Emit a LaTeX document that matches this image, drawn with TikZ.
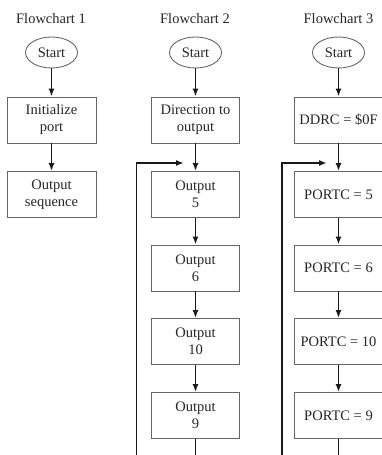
\documentclass[tikz,border=0pt]{standalone}
\usepackage{fontspec}
\setmainfont{Liberation Serif}
\usetikzlibrary{arrows.meta,shapes.geometric}
\begin{document}
\begin{tikzpicture}[x=1pt,y=-1pt,
  every node/.style={font=\fontsize{14.5}{17}\selectfont, text=black!85},
  proc/.style={draw=black!60, line width=0.9pt, minimum width=88pt,
    minimum height=46pt, align=center, inner sep=0pt},
  term/.style={ellipse, draw=black!60, line width=0.9pt,
    minimum width=52pt, minimum height=31pt, inner sep=0pt},
  heading/.style={anchor=base},
  flow/.style={line width=1.8pt, draw=black!90,
    -{Latex[length=8pt,width=6pt]}},
  plain/.style={line width=1.8pt, draw=black!90},
  loopline/.style={line width=1.8pt, draw=black!90,
    -{Latex[length=8pt,width=6pt]}}]
\useasboundingbox (0,0) rectangle (382,455);

% ---------- Flowchart 1 ----------
\node[heading] (t1) at (51,23.5) {Flowchart 1};
\node[term] (s1) at (51.5,52.5) {Start};
\node[proc, minimum width=89pt] (a1) at (51.5,120) {Initialize\\port};
\node[proc, minimum width=89pt] (b1) at (51.5,194.5) {Output\\sequence};
\draw[flow] (s1) -- (a1);
\draw[flow] (a1) -- (b1);

% ---------- Flowchart 2 ----------
\node[heading] (t2) at (195,23.5) {Flowchart 2};
\node[term] (s2) at (195.5,52.5) {Start};
\node[proc] (a2) at (195.5,120) {Direction to\\output};
\node[proc] (b2) at (195.5,194.5) {Output\\5};
\node[proc] (c2) at (195.5,268) {Output\\6};
\node[proc] (d2) at (195.5,341.5) {Output\\10};
\node[proc] (e2) at (195.5,415.5) {Output\\9};
\coordinate (end2) at (195.5,456);
\coordinate (ret2) at (136.5,456);
\coordinate (turn2) at (136.5,163);
\coordinate (join2) at (184,163);
\draw[flow] (s2) -- (a2);
\draw[flow] (a2) -- (b2);
\draw[flow] (b2) -- (c2);
\draw[flow] (c2) -- (d2);
\draw[flow] (d2) -- (e2);
\draw[plain] (e2) -- (end2);
\draw[loopline] (ret2) -- (turn2) -- (join2);

% ---------- Flowchart 3 ----------
\node[heading] (t3) at (338.5,23.5) {Flowchart 3};
\node[term] (s3) at (338.5,52.5) {Start};
\node[proc] (a3) at (338.5,120) {DDRC = \$0F};
\node[proc] (b3) at (338.5,194.5) {PORTC = 5};
\node[proc] (c3) at (338.5,268) {PORTC = 6};
\node[proc] (d3) at (338.5,341.5) {PORTC = 10};
\node[proc] (e3) at (338.5,415.5) {PORTC = 9};
\coordinate (end3) at (338.5,456);
\coordinate (ret3) at (282,456);
\coordinate (turn3) at (282,163);
\coordinate (join3) at (327,163);
\draw[flow] (s3) -- (a3);
\draw[flow] (a3) -- (b3);
\draw[flow] (b3) -- (c3);
\draw[flow] (c3) -- (d3);
\draw[flow] (d3) -- (e3);
\draw[plain] (e3) -- (end3);
\draw[loopline] (ret3) -- (turn3) -- (join3);
\end{tikzpicture}
\end{document}
